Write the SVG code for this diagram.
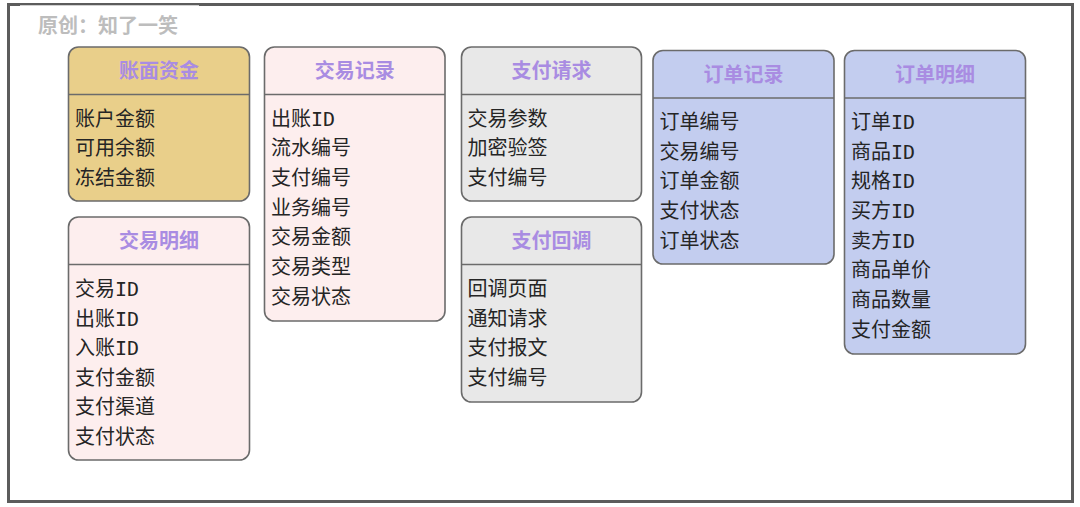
<svg xmlns="http://www.w3.org/2000/svg" width="1080" height="507" viewBox="0 0 1080 507">
<style>
.box{stroke:#6b6b6b;stroke-width:1.6}
.div{stroke:#6b6b6b;stroke-width:1.6}
.tan{fill:#E9CF8A}
.pink{fill:#FDEEEE}
.gray{fill:#E8E8E8}
.blue{fill:#C3CDEF}
.title{font-family:"Noto Sans CJK SC","Noto Sans",sans-serif;font-weight:bold;font-size:20px;fill:#A98CE2;text-anchor:middle}
.item{font-family:"DejaVu Sans Mono","Noto Sans CJK SC",monospace;font-size:20px;fill:#252525}
.brand{font-family:"Noto Sans CJK SC","Noto Sans",sans-serif;font-weight:bold;font-size:20px;fill:#BDBDBD}
</style>
<rect x="0" y="0" width="1080" height="507" fill="#ffffff"/>
<rect x="8.5" y="4.5" width="1064" height="497" fill="#ffffff" stroke="#5c5c5c" stroke-width="3"/>
<line x1="20" y1="5.5" x2="199" y2="5.5" stroke="#d0d0d0" stroke-width="1.2"/>
<text class="brand" x="38" y="33">原创：知了一笑</text>

<g id="zhangmian">
<rect class="box tan" x="68.5" y="47" width="181" height="154" rx="10"/>
<line class="div" x1="68.5" y1="94.5" x2="249.5" y2="94.5"/>
<text class="title" x="159" y="78">账面资金</text>
<text class="item" x="75" y="125.5">账户金额</text>
<text class="item" x="75" y="155.2">可用余额</text>
<text class="item" x="75" y="184.9">冻结金额</text>
</g>

<g id="jiaoyimingxi">
<rect class="box pink" x="68.5" y="217" width="181" height="243" rx="10"/>
<line class="div" x1="68.5" y1="264.5" x2="249.5" y2="264.5"/>
<text class="title" x="159" y="248">交易明细</text>
<text class="item" x="75" y="296">交易ID</text>
<text class="item" x="75" y="325.5">出账ID</text>
<text class="item" x="75" y="355">入账ID</text>
<text class="item" x="75" y="384.5">支付金额</text>
<text class="item" x="75" y="414">支付渠道</text>
<text class="item" x="75" y="443.5">支付状态</text>
</g>

<g id="jiaoyijilu">
<rect class="box pink" x="264.5" y="47" width="180.5" height="274" rx="10"/>
<line class="div" x1="264.5" y1="94.5" x2="445" y2="94.5"/>
<text class="title" x="354.7" y="78">交易记录</text>
<text class="item" x="271" y="125.5">出账ID</text>
<text class="item" x="271" y="155.2">流水编号</text>
<text class="item" x="271" y="184.9">支付编号</text>
<text class="item" x="271" y="214.6">业务编号</text>
<text class="item" x="271" y="244.3">交易金额</text>
<text class="item" x="271" y="274">交易类型</text>
<text class="item" x="271" y="303.7">交易状态</text>
</g>

<g id="zhifuqingqiu">
<rect class="box gray" x="461.5" y="47" width="180" height="154" rx="10"/>
<line class="div" x1="461.5" y1="94.5" x2="641.5" y2="94.5"/>
<text class="title" x="551.5" y="78">支付请求</text>
<text class="item" x="467.5" y="125.5">交易参数</text>
<text class="item" x="467.5" y="155.2">加密验签</text>
<text class="item" x="467.5" y="184.9">支付编号</text>
</g>

<g id="zhifuhuidiao">
<rect class="box gray" x="461.5" y="217" width="180" height="185" rx="10"/>
<line class="div" x1="461.5" y1="264.5" x2="641.5" y2="264.5"/>
<text class="title" x="551.5" y="248">支付回调</text>
<text class="item" x="467.5" y="296">回调页面</text>
<text class="item" x="467.5" y="325.5">通知请求</text>
<text class="item" x="467.5" y="355">支付报文</text>
<text class="item" x="467.5" y="384.5">支付编号</text>
</g>

<g id="dingdanjilu">
<rect class="box blue" x="653" y="50.5" width="181" height="213.5" rx="10"/>
<line class="div" x1="653" y1="98" x2="834" y2="98"/>
<text class="title" x="743.5" y="81.5">订单记录</text>
<text class="item" x="659.5" y="128.8">订单编号</text>
<text class="item" x="659.5" y="158.5">交易编号</text>
<text class="item" x="659.5" y="188.2">订单金额</text>
<text class="item" x="659.5" y="217.9">支付状态</text>
<text class="item" x="659.5" y="247.6">订单状态</text>
</g>

<g id="dingdanmingxi">
<rect class="box blue" x="844.5" y="50.5" width="181" height="303.5" rx="10"/>
<line class="div" x1="844.5" y1="98" x2="1025.5" y2="98"/>
<text class="title" x="935" y="81.5">订单明细</text>
<text class="item" x="851" y="128.8">订单ID</text>
<text class="item" x="851" y="158.5">商品ID</text>
<text class="item" x="851" y="188.2">规格ID</text>
<text class="item" x="851" y="217.9">买方ID</text>
<text class="item" x="851" y="247.6">卖方ID</text>
<text class="item" x="851" y="277.3">商品单价</text>
<text class="item" x="851" y="307">商品数量</text>
<text class="item" x="851" y="336.7">支付金额</text>
</g>

<g id="connectors"></g>
</svg>
